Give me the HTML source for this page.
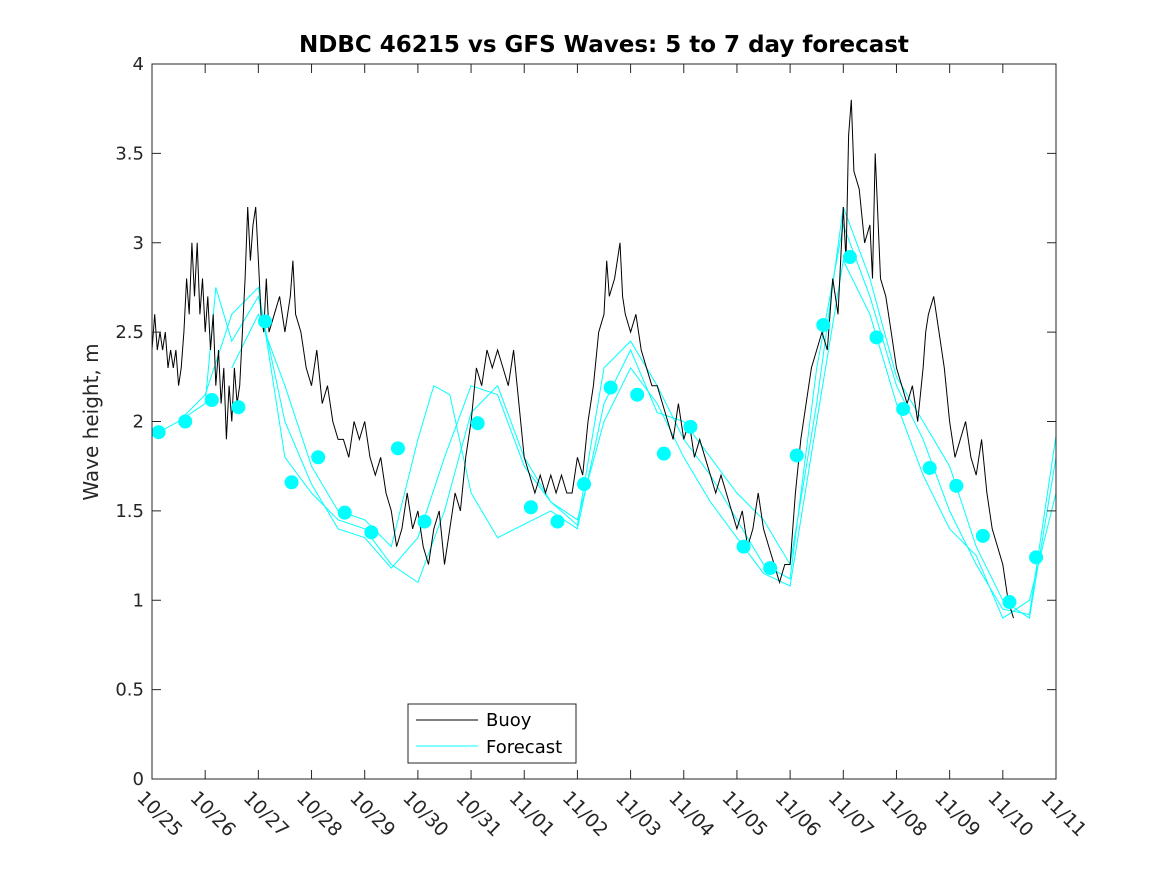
<!DOCTYPE html>
<html><head><meta charset="utf-8"><style>
html,body{margin:0;padding:0;background:#fff;}
svg{display:block;font-family:"DejaVu Sans","Liberation Sans",sans-serif;}
</style></head><body>
<svg id="chart" width="1167" height="875" viewBox="0 0 1167 875" xmlns="http://www.w3.org/2000/svg">
<rect width="1167" height="875" fill="#fff"/>
<text x="604" y="52" text-anchor="middle" font-size="23" font-weight="bold" fill="#000">NDBC 46215 vs GFS Waves: 5 to 7 day forecast</text>
<text transform="translate(98,422) rotate(-90)" text-anchor="middle" font-size="20" fill="#262626">Wave height, m</text>
<g id="plot"></g>
<g id="axes"></g>
<g>
<rect x="408" y="704" width="168" height="59" fill="#fff" stroke="#262626" stroke-width="1"/>
<line x1="416" y1="720" x2="478" y2="720" stroke="#000" stroke-width="1"/>
<text x="486" y="726" font-size="18" fill="#000">Buoy</text>
<line x1="416" y1="746" x2="478" y2="746" stroke="#00ffff" stroke-width="1"/>
<text x="486" y="753" font-size="18" fill="#000">Forecast</text>
</g>
</svg>
<script>
const xTickLabels=["10/25","10/26","10/27","10/28","10/29","10/30","10/31","11/01","11/02","11/03","11/04","11/05","11/06","11/07","11/08","11/09","11/10","11/11"];
const yTicks=[0,0.5,1,1.5,2,2.5,3,3.5,4];
const buoyDays=[0,0.05,0.1,0.15,0.2,0.25,0.3,0.35,0.4,0.45,0.5,0.55,0.6,0.65,0.7,0.75,0.8,0.85,0.9,0.95,1.0,1.05,1.1,1.15,1.2,1.25,1.3,1.35,1.4,1.45,1.5,1.55,1.6,1.65,1.7,1.75,1.8,1.85,1.9,1.95,2.0,2.05,2.1,2.15,2.2,2.3,2.4,2.5,2.6,2.65,2.7,2.8,2.9,3.0,3.1,3.2,3.3,3.4,3.5,3.6,3.7,3.8,3.9,4.0,4.1,4.2,4.3,4.4,4.5,4.6,4.7,4.8,4.9,5.0,5.1,5.2,5.3,5.4,5.5,5.6,5.7,5.8,5.9,6.0,6.1,6.2,6.3,6.4,6.5,6.6,6.7,6.8,6.9,7.0,7.1,7.2,7.3,7.4,7.5,7.6,7.7,7.8,7.9,8.0,8.1,8.2,8.3,8.4,8.5,8.55,8.6,8.7,8.8,8.85,8.9,9.0,9.1,9.2,9.3,9.4,9.5,9.6,9.7,9.8,9.9,10.0,10.1,10.2,10.3,10.4,10.5,10.6,10.7,10.8,10.9,11.0,11.1,11.2,11.3,11.4,11.5,11.6,11.7,11.8,11.9,12.0,12.1,12.2,12.3,12.4,12.5,12.6,12.7,12.8,12.9,13.0,13.05,13.1,13.15,13.2,13.3,13.4,13.5,13.55,13.6,13.7,13.8,13.9,14.0,14.1,14.2,14.3,14.4,14.5,14.55,14.6,14.7,14.8,14.9,15.0,15.1,15.2,15.3,15.4,15.5,15.6,15.7,15.8,15.9,16.0,16.1,16.2];
const buoyVals=[2.4,2.6,2.4,2.5,2.4,2.5,2.3,2.4,2.3,2.4,2.2,2.3,2.5,2.8,2.6,3.0,2.7,3.0,2.6,2.8,2.5,2.7,2.4,2.6,2.2,2.4,2.1,2.3,1.9,2.2,2.0,2.3,2.1,2.2,2.5,2.8,3.2,2.9,3.1,3.2,2.9,2.6,2.5,2.8,2.5,2.6,2.7,2.5,2.7,2.9,2.6,2.5,2.3,2.2,2.4,2.1,2.2,2.0,1.9,1.9,1.8,2.0,1.9,2.0,1.8,1.7,1.8,1.6,1.5,1.3,1.4,1.6,1.4,1.5,1.3,1.2,1.4,1.5,1.2,1.4,1.6,1.5,1.8,2.0,2.3,2.2,2.4,2.3,2.4,2.3,2.2,2.4,2.1,1.8,1.7,1.6,1.7,1.6,1.7,1.6,1.7,1.6,1.6,1.8,1.7,2.0,2.2,2.5,2.6,2.9,2.7,2.8,3.0,2.7,2.6,2.5,2.6,2.4,2.3,2.2,2.2,2.1,2.0,1.9,2.1,1.9,2.0,1.8,1.9,1.8,1.7,1.6,1.7,1.6,1.5,1.4,1.5,1.3,1.4,1.6,1.4,1.3,1.2,1.1,1.2,1.2,1.6,1.9,2.1,2.3,2.4,2.5,2.4,2.8,2.6,3.2,2.9,3.6,3.8,3.4,3.3,3.0,3.1,2.8,3.5,2.8,2.7,2.5,2.3,2.2,2.1,2.2,2.0,2.3,2.5,2.6,2.7,2.5,2.3,2.0,1.8,1.9,2.0,1.8,1.7,1.9,1.6,1.4,1.3,1.2,1.0,0.9];
const dotDays=[0.125,0.625,1.125,1.625,2.125,2.625,3.125,3.625,4.125,4.625,5.125,6.125,7.125,7.625,8.125,8.625,9.125,9.625,10.125,11.125,11.625,12.125,12.625,13.125,13.625,14.125,14.625,15.125,15.625,16.125,16.625];
const dotVals=[1.94,2.0,2.12,2.08,2.56,1.66,1.80,1.49,1.38,1.85,1.44,1.99,1.52,1.44,1.65,2.19,2.15,1.82,1.97,1.30,1.18,1.81,2.54,2.92,2.47,2.07,1.74,1.64,1.36,0.99,1.24];
const fc1Days=[0,0.5,1,1.2,1.5,2,2.5,3,3.5,4,4.5,5,5.5,6,6.5,7,7.5,8,8.5,9,9.5,10,10.5,11,11.5,12,12.5,13,13.5,14,14.5,15,15.5,16,16.5,17];
const fc1Vals=[1.92,2.0,2.1,2.75,2.45,2.7,2.0,1.65,1.4,1.35,1.18,1.35,1.8,2.2,2.15,1.75,1.55,1.42,2.3,2.45,2.2,1.9,1.7,1.45,1.2,1.12,2.3,3.1,2.7,2.2,1.9,1.5,1.2,0.95,0.92,1.92];
const fc2Days=[0.5,1,1.5,2,2.5,3,3.5,4,4.5,5,5.5,6,6.5,7,7.5,8,8.5,9,9.5,10,10.5,11,11.5,12,12.5,13,13.5,14,14.5,15,15.5,16,16.5,17];
const fc2Vals=[2.0,2.15,2.6,2.75,1.8,1.6,1.45,1.4,1.2,1.1,1.5,2.05,2.2,1.8,1.55,1.45,2.0,2.3,2.1,1.8,1.55,1.35,1.15,1.08,2.0,2.9,2.6,2.1,1.7,1.4,1.25,0.9,1.0,1.6];
const fc3Days=[1.5,2,2.5,3,3.5,4,4.5,5,5.3,5.6,6,6.5,7.5,8,8.5,9,9.5,10,10.5,11,11.5,12,12.5,13,13.5,14,14.5,15,15.5,16,16.5,17];
const fc3Vals=[2.3,2.6,2.2,1.75,1.5,1.45,1.3,1.9,2.2,2.15,1.6,1.35,1.5,1.4,2.1,2.4,2.05,2.0,1.8,1.6,1.45,1.2,2.1,3.2,2.8,2.25,2.0,1.75,1.3,1.0,0.9,1.8];
const NS='http://www.w3.org/2000/svg';
const X0=152,X1=1056,Y0=779,Y1=64,DAYS=17,YMAX=4;
const xs=d=>X0+(X1-X0)*d/DAYS;
const ys=v=>Y0-(Y0-Y1)*v/YMAX;
const plot=document.getElementById('plot'),axes=document.getElementById('axes');
function mk(t,a,p){const e=document.createElementNS(NS,t);for(const k in a)e.setAttribute(k,a[k]);(p||plot).appendChild(e);return e;}
function poly(days,vals,color,name){
 const pts=days.map((d,i)=>xs(d).toFixed(1)+','+ys(vals[i]).toFixed(1)).join(' ');
 const e=mk('polyline',{points:pts,fill:'none',stroke:color,'stroke-width':1});
 
 
}
poly(fc1Days,fc1Vals,'#00ffff','forecast-line-1');
poly(fc2Days,fc2Vals,'#00ffff','forecast-line-2');
poly(fc3Days,fc3Vals,'#00ffff','forecast-line-3');
poly(buoyDays,buoyVals,'#000','buoy-line');
dotDays.forEach((d,i)=>{
 const c=mk('ellipse',{cx:xs(d),cy:ys(dotVals[i]),rx:7,ry:7,fill:'#00ffff'});
 
 
});
const fr=mk('rect',{x:X0,y:Y1,width:X1-X0,height:Y0-Y1,fill:'none',stroke:'#262626','stroke-width':1},axes);


xTickLabels.forEach((lab,i)=>{
 const x=xs(i);
 mk('line',{x1:x,y1:Y0,x2:x,y2:Y0-9,stroke:'#262626'},axes);
 mk('line',{x1:x,y1:Y1,x2:x,y2:Y1+9,stroke:'#262626'},axes);
 const t=mk('text',{x:0,y:0,transform:`translate(${x-16},${Y0+20}) rotate(45)`,'font-size':19,fill:'#262626'},axes);
 t.textContent=lab;
 
 
});
yTicks.forEach(v=>{
 const y=ys(v);
 mk('line',{x1:X0,y1:y,x2:X0+9,y2:y,stroke:'#262626'},axes);
 mk('line',{x1:X1,y1:y,x2:X1-9,y2:y,stroke:'#262626'},axes);
 const t=mk('text',{x:X0-8,y:y+6,'text-anchor':'end','font-size':18,fill:'#262626'},axes);
 t.textContent=String(v);
 
 
});
</script>
</body></html>
